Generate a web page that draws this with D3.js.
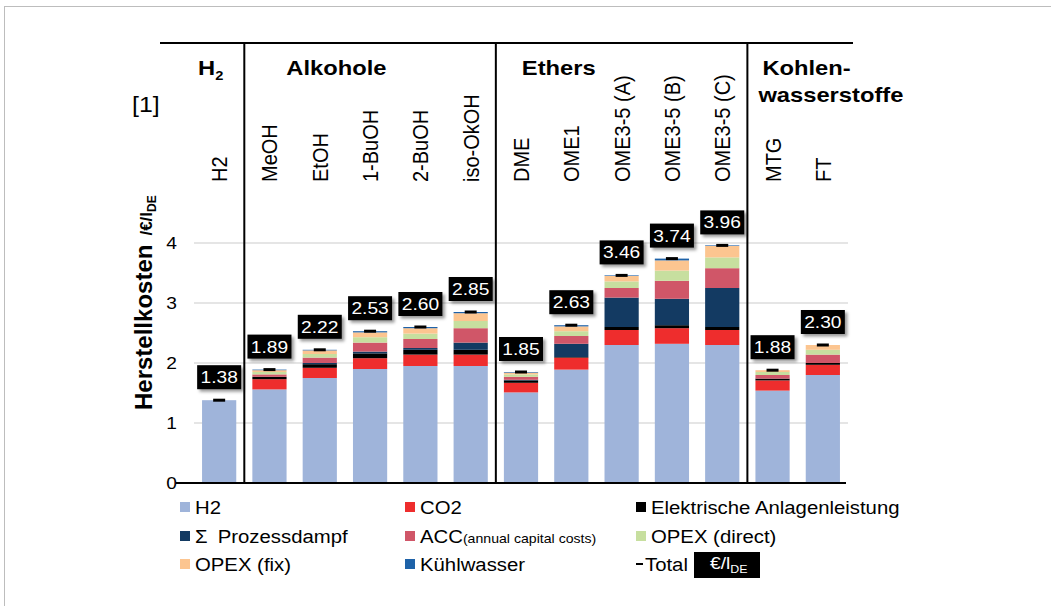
<!DOCTYPE html>
<html lang="de">
<head>
<meta charset="utf-8">
<style>
  body { margin: 0; background: #fff; }
  svg { display: block; font-family: "Liberation Sans", Arial, sans-serif; }
</style>
<script src="https://d3js.org/d3.v7.min.js"></script>
</head>
<body>
<script>
  // categories and groups
  let categories = ["H2", "MeOH", "EtOH", "1-BuOH", "2-BuOH", "iso-OkOH", "DME", "OME1",
                    "OME3-5 (A)", "OME3-5 (B)", "OME3-5 (C)", "MTG", "FT"];
  let groupNames = ["H2", "Alkohole", "Ethers", "Kohlen-|wasserstoffe"];
  let groupStarts = ["H2", "MeOH", "DME", "MTG"];

  // cost components, €/l_DE
  let h2          = [1.38, 1.56, 1.75, 1.90, 1.95, 1.95, 1.51, 1.89, 2.30, 2.32, 2.30, 1.54, 1.80];
  let co2         = [0,    0.17, 0.17, 0.18, 0.19, 0.19, 0.16, 0.20, 0.25, 0.26, 0.25, 0.17, 0.17];
  let elektrisch  = [0,    0.04, 0.06, 0.08, 0.08, 0.08, 0.04, 0.01, 0.05, 0.05, 0.05, 0.03, 0.03];
  let dampf       = [0,    0,    0.02, 0.03, 0.03, 0.12, 0.01, 0.22, 0.49, 0.44, 0.65, 0,    0];
  let acc         = [0,    0.04, 0.09, 0.15, 0.15, 0.24, 0.05, 0.13, 0.16, 0.30, 0.33, 0.06, 0.14];
  let opexDirect  = [0,    0.04, 0.06, 0.09, 0.09, 0.12, 0.04, 0.08, 0.11, 0.17, 0.18, 0.05, 0.08];
  let opexFix     = [0,    0.03, 0.06, 0.08, 0.09, 0.13, 0.03, 0.08, 0.09, 0.17, 0.19, 0.03, 0.08];
  let kuehlwasser = [0,    0.01, 0.01, 0.02, 0.02, 0.02, 0.01, 0.02, 0.01, 0.03, 0.01, 0,    0];
  let totals      = ["1.38", "1.89", "2.22", "2.53", "2.60", "2.85", "1.85", "2.63", "3.46", "3.74", "3.96", "1.88", "2.30"];
  let yTicks = [0, 1, 2, 3, 4];

  let seriesKeys = ["h2", "co2", "elektrisch", "dampf", "acc", "opexDirect", "opexFix", "kuehlwasser"];
  let seriesValues = [h2, co2, elektrisch, dampf, acc, opexDirect, opexFix, kuehlwasser];
  let seriesLabels = ["H2", "CO2", "Elektrische Anlagenleistung", "Σ Prozessdampf", "ACC",
                      "OPEX (direct)", "OPEX (fix)", "Kühlwasser"];
  let colors = ["#9fb4da", "#ee2d2d", "#000000", "#133a62", "#d05668", "#c7df9f", "#fcc590", "#1e62a8"];

  // the original picture is slightly stretched horizontally
  let SX = 1.13;

  let svg = d3.select("body").append("svg")
    .attr("width", 1051)
    .attr("height", 606);

  let filter = svg.append("defs").append("filter")
    .attr("id", "shadow")
    .attr("x", "-20%").attr("y", "-30%")
    .attr("width", "150%").attr("height", "170%");
  filter.append("feDropShadow")
    .attr("dx", 2.5).attr("dy", 2.5)
    .attr("stdDeviation", 1.5)
    .attr("flood-color", "#000")
    .attr("flood-opacity", 0.4);

  // thin frame of the slide
  svg.append("rect")
    .attr("x", 4.5).attr("y", 6.5)
    .attr("width", 1200).attr("height", 800)
    .attr("fill", "none")
    .attr("stroke", "#bdbdbd");

  let x = d3.scaleBand()
    .domain(categories)
    .range([194, 848])
    .paddingInner(0.32)
    .paddingOuter(0.16);

  let y = d3.scaleLinear()
    .domain([0, 4])
    .range([483, 243]);

  let boundary = function(cat) { return x(cat) - x.step() * 0.16; };

  // gridlines
  svg.append("g").selectAll("line")
    .data(yTicks.filter(function(t) { return t > 0; }))
    .join("line")
    .attr("x1", 194).attr("x2", 848)
    .attr("y1", function(d) { return y(d); })
    .attr("y2", function(d) { return y(d); })
    .attr("stroke", "#dcdcdc")
    .attr("stroke-width", 1.5);

  // stacked bars
  let rows = categories.map(function(c, i) {
    let r = { cat: c };
    seriesKeys.forEach(function(k, j) { r[k] = seriesValues[j][i]; });
    return r;
  });
  let stacked = d3.stack().keys(seriesKeys)(rows);

  svg.append("g").selectAll("g")
    .data(stacked)
    .join("g")
    .attr("fill", function(d, i) { return colors[i]; })
    .selectAll("rect")
    .data(function(d) { return d; })
    .join("rect")
    .attr("x", function(d) { return x(d.data.cat); })
    .attr("y", function(d) { return y(d[1]); })
    .attr("width", x.bandwidth())
    .attr("height", function(d) { return y(d[0]) - y(d[1]); });

  // total markers
  svg.append("g").selectAll("line")
    .data(categories)
    .join("line")
    .attr("x1", function(d) { return x(d) + x.bandwidth() / 2 - 6; })
    .attr("x2", function(d) { return x(d) + x.bandwidth() / 2 + 6; })
    .attr("y1", function(d, i) { return y(+totals[i]); })
    .attr("y2", function(d, i) { return y(+totals[i]); })
    .attr("stroke", "#000")
    .attr("stroke-width", 3);

  // value boxes
  let labels = svg.append("g").selectAll("g")
    .data(categories)
    .join("g")
    .attr("transform", function(d, i) {
      return "translate(" + (x(d) + x.bandwidth() / 2) + "," + (y(+totals[i]) - 11) + ")";
    });
  labels.append("rect")
    .attr("x", -22).attr("y", -24)
    .attr("width", 44).attr("height", 24)
    .attr("fill", "#000")
    .attr("filter", "url(#shadow)");
  labels.append("text")
    .attr("transform", "translate(0,-6) scale(" + SX + ",1)")
    .attr("text-anchor", "middle")
    .attr("fill", "#fff")
    .style("font-size", "17px")
    .text(function(d, i) { return totals[i]; });

  // baseline and frame lines
  svg.append("line")
    .attr("x1", 176).attr("x2", 846)
    .attr("y1", y(0)).attr("y2", y(0))
    .attr("stroke", "#000").attr("stroke-width", 2);

  svg.append("line")
    .attr("x1", 160).attr("x2", 853)
    .attr("y1", 43).attr("y2", 43)
    .attr("stroke", "#000").attr("stroke-width", 2);

  svg.append("g").selectAll("line")
    .data(groupStarts.slice(1))
    .join("line")
    .attr("x1", function(d) { return boundary(d); })
    .attr("x2", function(d) { return boundary(d); })
    .attr("y1", 43).attr("y2", y(0))
    .attr("stroke", "#000").attr("stroke-width", 2);

  // y axis
  let yAxis = svg.append("g")
    .attr("transform", "translate(177,0)")
    .call(d3.axisLeft(y).tickValues(yTicks).tickFormat(d3.format("d")).tickSize(0).tickPadding(0));
  yAxis.select(".domain").remove();
  yAxis.selectAll("text")
    .attr("transform", "scale(" + SX + ",1)")
    .attr("fill", "#000")
    .style("font-size", "17px")
    .style("font-family", "'Liberation Sans', Arial, sans-serif");

  // y title
  let yTitle = svg.append("text")
    .attr("transform", "translate(152,410) rotate(-90)")
    .style("font-weight", "bold")
    .style("font-size", "24px");
  yTitle.append("tspan").text("Herstellkosten");
  yTitle.append("tspan").attr("dx", 9).style("font-size", "17px").text("/€/l");
  yTitle.append("tspan").attr("dy", 4).style("font-size", "12px").text("DE");

  // category labels
  svg.append("g").selectAll("text")
    .data(categories)
    .join("text")
    .attr("transform", function(d) {
      return "translate(" + (x(d) + x.bandwidth() / 2 + 8) + ",182) rotate(-90) scale(1," + SX + ")";
    })
    .style("font-size", "20px")
    .text(function(d) { return d; });

  // group headers
  let headerDx = [4, 42, 26, 15];
  groupNames.forEach(function(name, i) {
    let gx = (i === 0 ? x.range()[0] : boundary(groupStarts[i])) + headerDx[i];
    let lines = name.split("|");
    lines.forEach(function(line, j) {
      let t = svg.append("text")
        .attr("transform", "translate(" + (gx - (j > 0 ? 4 : 0)) + "," + (75 + j * 27) + ") scale(" + SX + ",1)")
        .style("font-weight", "bold")
        .style("font-size", "21px");
      if (line === "H2") {
        t.append("tspan").text("H");
        t.append("tspan").attr("dy", 5).style("font-size", "13px").text("2");
      } else {
        t.text(line);
      }
    });
  });

  svg.append("text")
    .attr("transform", "translate(132,112) scale(" + SX + ",1)")
    .style("font-size", "22px")
    .text("[1]");

  // legend
  let legCols = [180, 405, 636];
  let legRows = [507, 536, 564];
  seriesLabels.forEach(function(name, i) {
    let lx = legCols[i % 3];
    let ly = legRows[Math.floor(i / 3)];
    svg.append("rect")
      .attr("x", lx).attr("y", ly - 5)
      .attr("width", 10).attr("height", 10)
      .attr("fill", colors[i]);
    let t = svg.append("text")
      .attr("transform", "translate(" + (lx + 15) + "," + (ly + 6.5) + ") scale(" + SX + ",1)")
      .style("font-size", "18px");
    if (name === "ACC") {
      t.append("tspan").text("ACC");
      t.append("tspan").style("font-size", "12.5px").text("(annual capital costs)");
    } else if (name.charAt(0) === "Σ") {
      t.append("tspan").text("Σ");
      t.append("tspan").attr("dx", 9).text(name.slice(2));
    } else {
      t.text(name);
    }
  });

  // total entry
  let tx = legCols[2];
  let ty = legRows[2];
  svg.append("line")
    .attr("x1", tx).attr("x2", tx + 7)
    .attr("y1", ty).attr("y2", ty)
    .attr("stroke", "#000").attr("stroke-width", 2);
  svg.append("text")
    .attr("transform", "translate(" + (tx + 9) + "," + (ty + 6.5) + ") scale(" + SX + ",1)")
    .style("font-size", "18px")
    .text("Total");
  svg.append("rect")
    .attr("x", tx + 58).attr("y", ty - 12)
    .attr("width", 66).attr("height", 26)
    .attr("fill", "#000");
  let unit = svg.append("text")
    .attr("transform", "translate(" + (tx + 74) + "," + (ty + 5) + ") scale(" + SX + ",1)")
    .attr("fill", "#fff")
    .style("font-size", "17px");
  unit.append("tspan").text("€/l");
  unit.append("tspan").attr("dy", 4).style("font-size", "11px").text("DE");
</script>
</body>
</html>
